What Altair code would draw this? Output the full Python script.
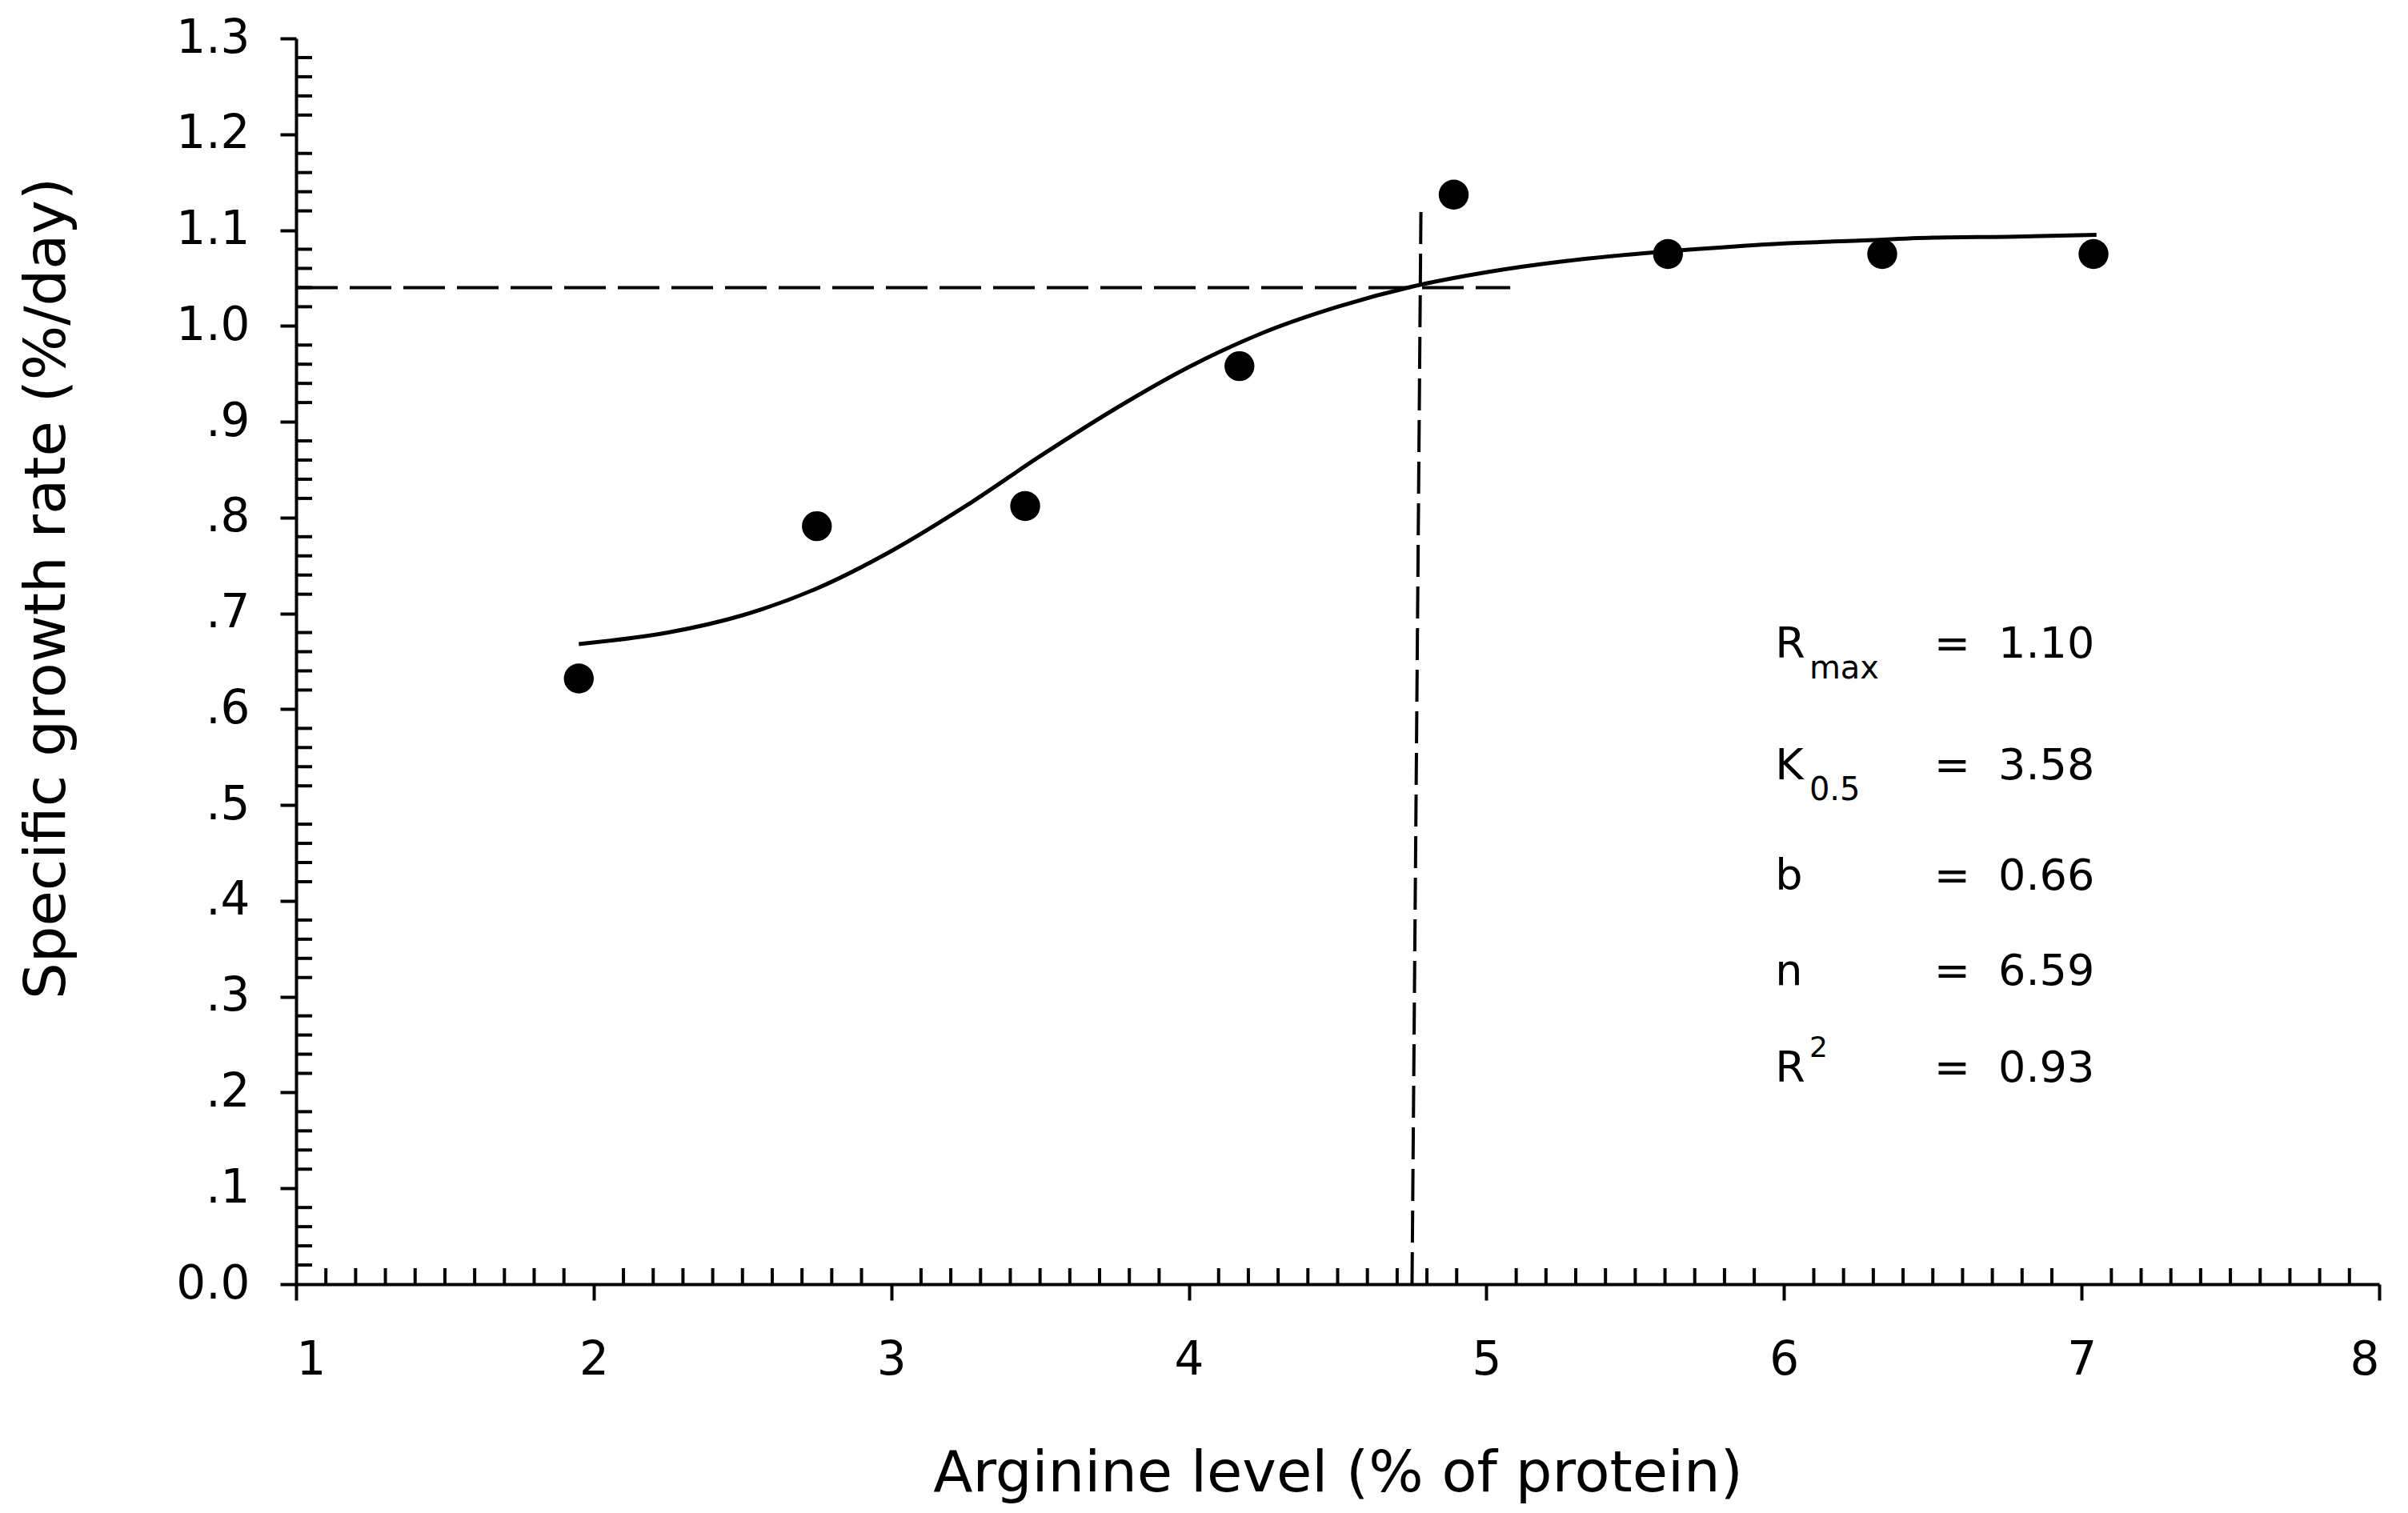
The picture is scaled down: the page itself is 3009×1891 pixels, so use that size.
import altair as alt
import pandas as pd

# ---- data ----
arg_level = [1.95, 2.75, 3.45, 4.17, 4.89, 5.61, 6.33, 7.04]
growth_rate = [0.632, 0.791, 0.812, 0.958, 1.137, 1.075, 1.075, 1.075]

curve_x = [1.95, 2.25, 2.5, 2.75, 3.0, 3.25, 3.5, 3.75, 4.0, 4.25, 4.5,
           4.75, 5.0, 5.25, 5.5, 5.75, 6.0, 6.25, 6.5, 6.75, 7.05]
curve_y = [0.668, 0.680, 0.698, 0.726, 0.765, 0.812, 0.864, 0.913, 0.957,
           0.993, 1.020, 1.041, 1.056, 1.067, 1.075, 1.081, 1.086, 1.089,
           1.092, 1.093, 1.095]

hline_x = [1.0, 5.08]
hline_y = [1.04, 1.04]
vline_x = [4.75, 4.78]
vline_y = [0.0, 1.124]

ann_labels = ["R", "K", "b", "n", "R"]
ann_sub = ["max", "0.5", "", "", ""]
ann_sup = ["", "", "", "", "2"]
ann_values = ["1.10", "3.58", "0.66", "6.59", "0.93"]
ann_y = [0.667, 0.540, 0.425, 0.326, 0.225]
ann_label_x = 5.97
ann_sub_x = 6.085
ann_eq_x = 6.565
ann_val_x = 6.72

x_ticks = [1, 2, 3, 4, 5, 6, 7, 8]
y_ticks = [0.0, 0.1, 0.2, 0.3, 0.4, 0.5, 0.6, 0.7, 0.8, 0.9, 1.0, 1.1, 1.2, 1.3]
x_minor = [round(1 + i * 0.1, 1) for i in range(1, 70) if i % 10 != 0]
y_minor = [round(i * 0.02, 2) for i in range(1, 65) if i % 5 != 0]

W, H = 2603, 1557
FONT = "DejaVu Sans"

xscale = alt.Scale(domain=[1, 8], nice=False, zero=False)
yscale = alt.Scale(domain=[0, 1.3], nice=False, zero=False)

xaxis = alt.Axis(values=x_ticks, format="d", grid=False, tickSize=20, tickWidth=4,
                 tickColor="black", domainColor="black", domainWidth=4,
                 labelFont=FONT, labelFontSize=58, labelColor="black", labelPadding=46,
                 title="Arginine level  (% of protein)", titleFont=FONT,
                 titleFontSize=72, titleFontWeight="normal", titleColor="black",
                 titleY=258, titleBaseline="alphabetic")
yaxis = alt.Axis(values=y_ticks, grid=False, tickSize=20, tickWidth=4,
                 tickColor="black", domainColor="black", domainWidth=4,
                 labelFont=FONT, labelFontSize=58, labelColor="black", labelPadding=38,
                 labelExpr="datum.value == 0 ? '0.0' : (datum.value < 1 ? replace(format(datum.value, '.1f'), '0.', '.') : format(datum.value, '.1f'))",
                 title="Specific growth rate (%/day)", titleFont=FONT,
                 titleFontSize=72, titleFontWeight="normal", titleColor="black",
                 titleX=-290, titleY=687, titleAngle=-90, titleAlign="center",
                 titleBaseline="alphabetic")


def X(field="x"):
    return alt.X(f"{field}:Q", scale=xscale, axis=xaxis)


def Y(field="y"):
    return alt.Y(f"{field}:Q", scale=yscale, axis=yaxis)


pts = pd.DataFrame({"x": arg_level, "y": growth_rate})
crv = pd.DataFrame({"x": curve_x, "y": curve_y})
hl = pd.DataFrame({"x": [hline_x[0]], "x2": [hline_x[1]], "y": [hline_y[0]], "y2": [hline_y[1]]})
vl = pd.DataFrame({"x": [vline_x[0]], "x2": [vline_x[1]], "y": [vline_y[0]], "y2": [vline_y[1]]})
ann = pd.DataFrame({"y": ann_y, "label": ann_labels, "sub": ann_sub,
                    "sup": ann_sup, "val": ann_values})
ann["xl"] = ann_label_x
ann["xs"] = ann_sub_x
ann["xe"] = ann_eq_x
ann["xv"] = ann_val_x
xm = pd.DataFrame({"x": x_minor})
ym = pd.DataFrame({"y": y_minor})

minor_x = alt.Chart(xm).mark_rule(color="black", strokeWidth=4).encode(
    x=X(), y=alt.value(H), y2=alt.value(H - 20))
minor_y = alt.Chart(ym).mark_rule(color="black", strokeWidth=4).encode(
    y=Y(), x=alt.value(0), x2=alt.value(20))

hrule = alt.Chart(hl).mark_rule(color="black", strokeWidth=4, strokeDash=[52, 15]).encode(
    x=X(), x2="x2:Q", y=Y(), y2="y2:Q")
vrule = alt.Chart(vl).mark_rule(color="black", strokeWidth=4, strokeDash=[40, 12]).encode(
    x=X(), x2="x2:Q", y=Y(), y2="y2:Q")

line = alt.Chart(crv).mark_line(color="black", strokeWidth=5, interpolate="monotone").encode(
    x=X(), y=Y())
points = alt.Chart(pts).mark_circle(color="black", size=1400, opacity=1).encode(
    x=X(), y=Y())

t_label = alt.Chart(ann).mark_text(align="left", baseline="middle", font=FONT,
                                   fontSize=54, color="black").encode(
    x=X("xl"), y=Y(), text="label:N")
t_sub = alt.Chart(ann).mark_text(align="left", baseline="middle", font=FONT,
                                 fontSize=40, color="black", dy=30).encode(
    x=X("xs"), y=Y(), text="sub:N")
t_sup = alt.Chart(ann).mark_text(align="left", baseline="middle", font=FONT,
                                 fontSize=36, color="black", dy=-26).encode(
    x=X("xs"), y=Y(), text="sup:N")
t_eq = alt.Chart(ann).mark_text(align="center", baseline="middle", font=FONT,
                                fontSize=54, color="black").encode(
    x=X("xe"), y=Y(), text=alt.value("="))
t_val = alt.Chart(ann).mark_text(align="left", baseline="middle", font=FONT,
                                 fontSize=54, color="black").encode(
    x=X("xv"), y=Y(), text="val:N")

chart = alt.layer(minor_x, minor_y, hrule, vrule, line, points,
                  t_label, t_sub, t_sup, t_eq, t_val).properties(
    width=W, height=H,
    autosize=alt.AutoSizeParams(type="none"),
    padding={"left": 362, "top": 40, "right": 20, "bottom": 278},
    background="white",
).configure_view(stroke=None)

chart.save("out.html", embed_options={"renderer": "svg", "actions": False})
